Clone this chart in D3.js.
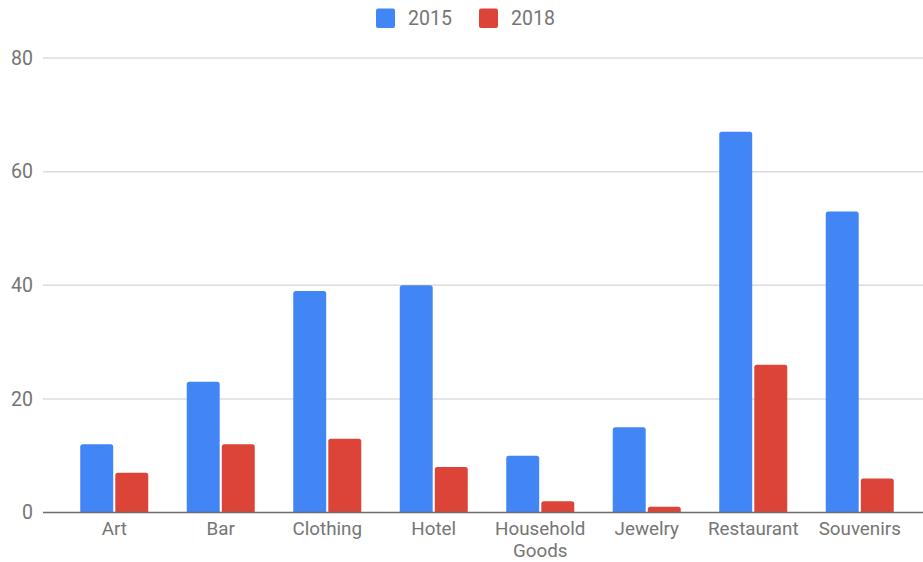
<!DOCTYPE html>
<html>
<head>
<meta charset="utf-8">
<script src="https://cdn.jsdelivr.net/npm/d3@7"></script>
<style>
  html, body { margin: 0; padding: 0; background: #fff; }
  svg { display: block; font-family: Roboto, "Noto Sans", sans-serif; }
</style>
</head>
<body>
<svg id="chart" width="923" height="562"></svg>
<script>
const categories = ["Art", "Bar", "Clothing", "Hotel", "Household Goods", "Jewelry", "Restaurant", "Souvenirs"];
const seriesNames = ["2015", "2018"];
const values2015 = [12, 23, 39, 40, 10, 15, 67, 53];
const values2018 = [7, 12, 13, 8, 2, 1, 26, 6];
const yTicks = [0, 20, 40, 60, 80];
const colors = ["#4285f4", "#db4437"];

const fontSize = "19.5px";
const catFontSize = "18.8px";
const textColor = "#757575";

const svg = d3.select("#chart");
const plotLeft = 43, plotRight = 923, plotTop = 58, plotBottom = 512.5;

const rows = categories.map((c, i) => ({ cat: c, vals: [values2015[i], values2018[i]] }));

const x0 = d3.scaleBand().domain(categories).range([61, 913]).padding(0);
const bw = x0.bandwidth();
const x1 = d3.scaleBand().domain(seriesNames)
  .range([bw / 2 - 34, bw / 2 + 34]).paddingInner(0.06);
const y = d3.scaleLinear().domain([0, 80]).range([plotBottom, plotTop]);

// gridlines
svg.append("g")
  .selectAll("line")
  .data(yTicks.filter(t => t !== 0))
  .join("line")
  .attr("x1", plotLeft).attr("x2", plotRight)
  .attr("y1", d => y(d)).attr("y2", d => y(d))
  .attr("stroke", "#dcdcdc").attr("stroke-width", 1.5);

// y tick labels
const yAxis = d3.axisLeft(y).tickValues(yTicks).tickSize(0).tickPadding(0);
const gy = svg.append("g").attr("transform", `translate(33,0)`).call(yAxis);
gy.select(".domain").remove();
gy.selectAll("text")
  .attr("fill", textColor)
  .style("font-size", fontSize)
  .style("font-family", "Roboto, sans-serif");

// bars
const groups = svg.append("g").selectAll("g")
  .data(rows).join("g")
  .attr("transform", d => `translate(${x0(d.cat)},0)`);

groups.selectAll("path")
  .data(d => d.vals.map((v, i) => ({ key: seriesNames[i], v, i })))
  .join("path")
  .attr("fill", d => colors[d.i])
  .attr("d", d => {
    const x = x1(d.key), w = x1.bandwidth();
    const top = y(d.v), bottom = y(0);
    const r = Math.min(2.5, (bottom - top) / 2);
    return `M${x},${bottom}V${top + r}Q${x},${top} ${x + r},${top}H${x + w - r}Q${x + w},${top} ${x + w},${top + r}V${bottom}Z`;
  });

// baseline
svg.append("line")
  .attr("x1", plotLeft).attr("x2", plotRight)
  .attr("y1", y(0)).attr("y2", y(0))
  .attr("stroke", "#6e6e6e").attr("stroke-width", 1.5);

// category labels (wrap long names onto two lines)
const xAxis = d3.axisBottom(x0).tickSize(0).tickPadding(0);
const gx = svg.append("g").attr("transform", `translate(0,${plotBottom})`).call(xAxis);
gx.select(".domain").remove();
gx.selectAll("text").each(function (d) {
  const t = d3.select(this);
  t.text(null)
    .attr("y", 0).attr("dy", null)
    .attr("fill", textColor)
    .style("font-size", catFontSize)
    .style("font-family", "Roboto, sans-serif");
  const words = d.split(" ");
  words.forEach((w, i) => {
    t.append("tspan").attr("x", 0).attr("y", 22.5 + i * 22).text(w);
  });
});

// legend
const legend = svg.append("g");
const legendItems = [
  { name: seriesNames[0], color: colors[0], x: 376 },
  { name: seriesNames[1], color: colors[1], x: 479 }
];
legendItems.forEach(it => {
  legend.append("rect")
    .attr("x", it.x).attr("y", 8.5).attr("width", 19).attr("height", 19.5)
    .attr("rx", 2).attr("fill", it.color);
  legend.append("text")
    .attr("x", it.x + 32).attr("y", 25)
    .attr("fill", textColor)
    .style("font-size", fontSize)
    .text(it.name);
});
</script>
</body>
</html>
